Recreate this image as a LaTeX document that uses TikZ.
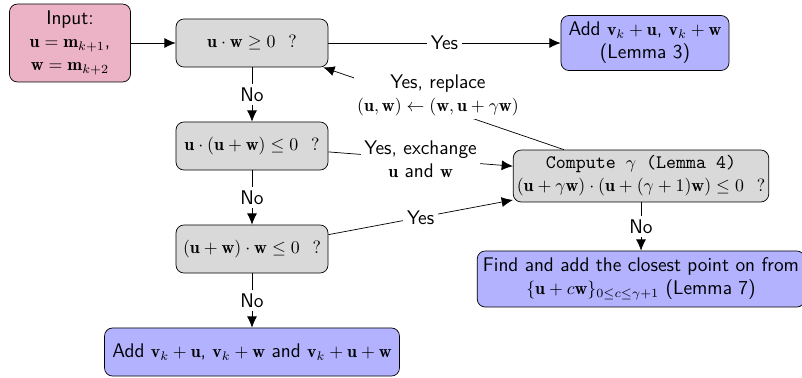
\documentclass[tikz,border=0pt]{standalone}
\usepackage{fontspec}
\setsansfont{Latin Modern Sans}[Scale=1.11]
\setmonofont{Latin Modern Mono}[Scale=1.07]
\usetikzlibrary{arrows.meta}
\begin{document}
\begin{tikzpicture}[x=0.5618pt,y=-0.5618pt, font=\fontsize{10}{13}\selectfont\sffamily,
  box/.style={draw, rounded corners=4.5pt, align=center, inner sep=2pt},
  dec/.style={box, fill=gray!30, minimum width=85.4pt, minimum height=27pt},
  res/.style={box, fill=blue!30},
  arr/.style={-{Latex[length=6.3pt,width=5.6pt]}},
  lbl/.style={fill=white, align=center, inner sep=2pt}]
\useasboundingbox (0,0) rectangle (802,377);
\node[box, fill=purple!30, minimum width=68pt, minimum height=43.8pt] (in) at (70,43)
  {Input:\\ $\mathbf{u}=\mathbf{m}_{k+1}$,\\ $\mathbf{w}=\mathbf{m}_{k+2}$};
\node[dec] (n1) at (252,43) {$\mathbf{u}\cdot\mathbf{w}\geq 0\ \ ?$};
\node[dec] (n2) at (252,146) {$\mathbf{u}\cdot(\mathbf{u}+\mathbf{w})\leq 0\ \ ?$};
\node[dec] (n3) at (252,249) {$(\mathbf{u}+\mathbf{w})\cdot\mathbf{w}\leq 0\ \ ?$};
\node[res, minimum width=94.4pt, minimum height=30.9pt] (l3) at (645,43)
  {Add $\mathbf{v}_k+\mathbf{u}$, $\mathbf{v}_k+\mathbf{w}$\\(Lemma 3)};
\node[res, minimum width=165.7pt, minimum height=27pt] (bot) at (252,352)
  {Add $\mathbf{v}_k+\mathbf{u}$, $\mathbf{v}_k+\mathbf{w}$ and $\mathbf{v}_k+\mathbf{u}+\mathbf{w}$};
\node[box, fill=gray!30, minimum width=142.7pt, minimum height=29.2pt] (c) at (641,176)
  {\texttt{Compute $\gamma$ (Lemma 4)}\\ $(\mathbf{u}+\gamma\mathbf{w})\cdot(\mathbf{u}+(\gamma+1)\mathbf{w})\leq 0\ \ ?$};
\node[res, minimum width=184pt, minimum height=31.5pt] (f) at (641,279)
  {Find and add the closest point on from\\ $\{\mathbf{u}+c\mathbf{w}\}_{0\leq c\leq\gamma+1}$ (Lemma 7)};

\draw[arr] (in) -- (n1);
\draw[arr] (n1) -- node[lbl] {Yes} (l3);
\draw[arr] (n1) -- node[lbl] {No} (n2);
\draw[arr] (n2) -- node[lbl] {No} (n3);
\draw[arr] (n3) -- node[lbl] {No} (bot);
\draw[arr] (n2) -- node[lbl] {Yes, exchange\\ $\mathbf{u}$ and $\mathbf{w}$} (c);
\draw[arr] (n3) -- node[lbl] {Yes} (c);
\draw[arr] (c) -- node[lbl] {No} (f);
\draw[arr] (c) -- (n1);
\node[lbl] (rl) at (438,95) {Yes, replace\\ $(\mathbf{u},\mathbf{w})\leftarrow(\mathbf{w},\mathbf{u}+\gamma\mathbf{w})$};
\end{tikzpicture}
\end{document}
